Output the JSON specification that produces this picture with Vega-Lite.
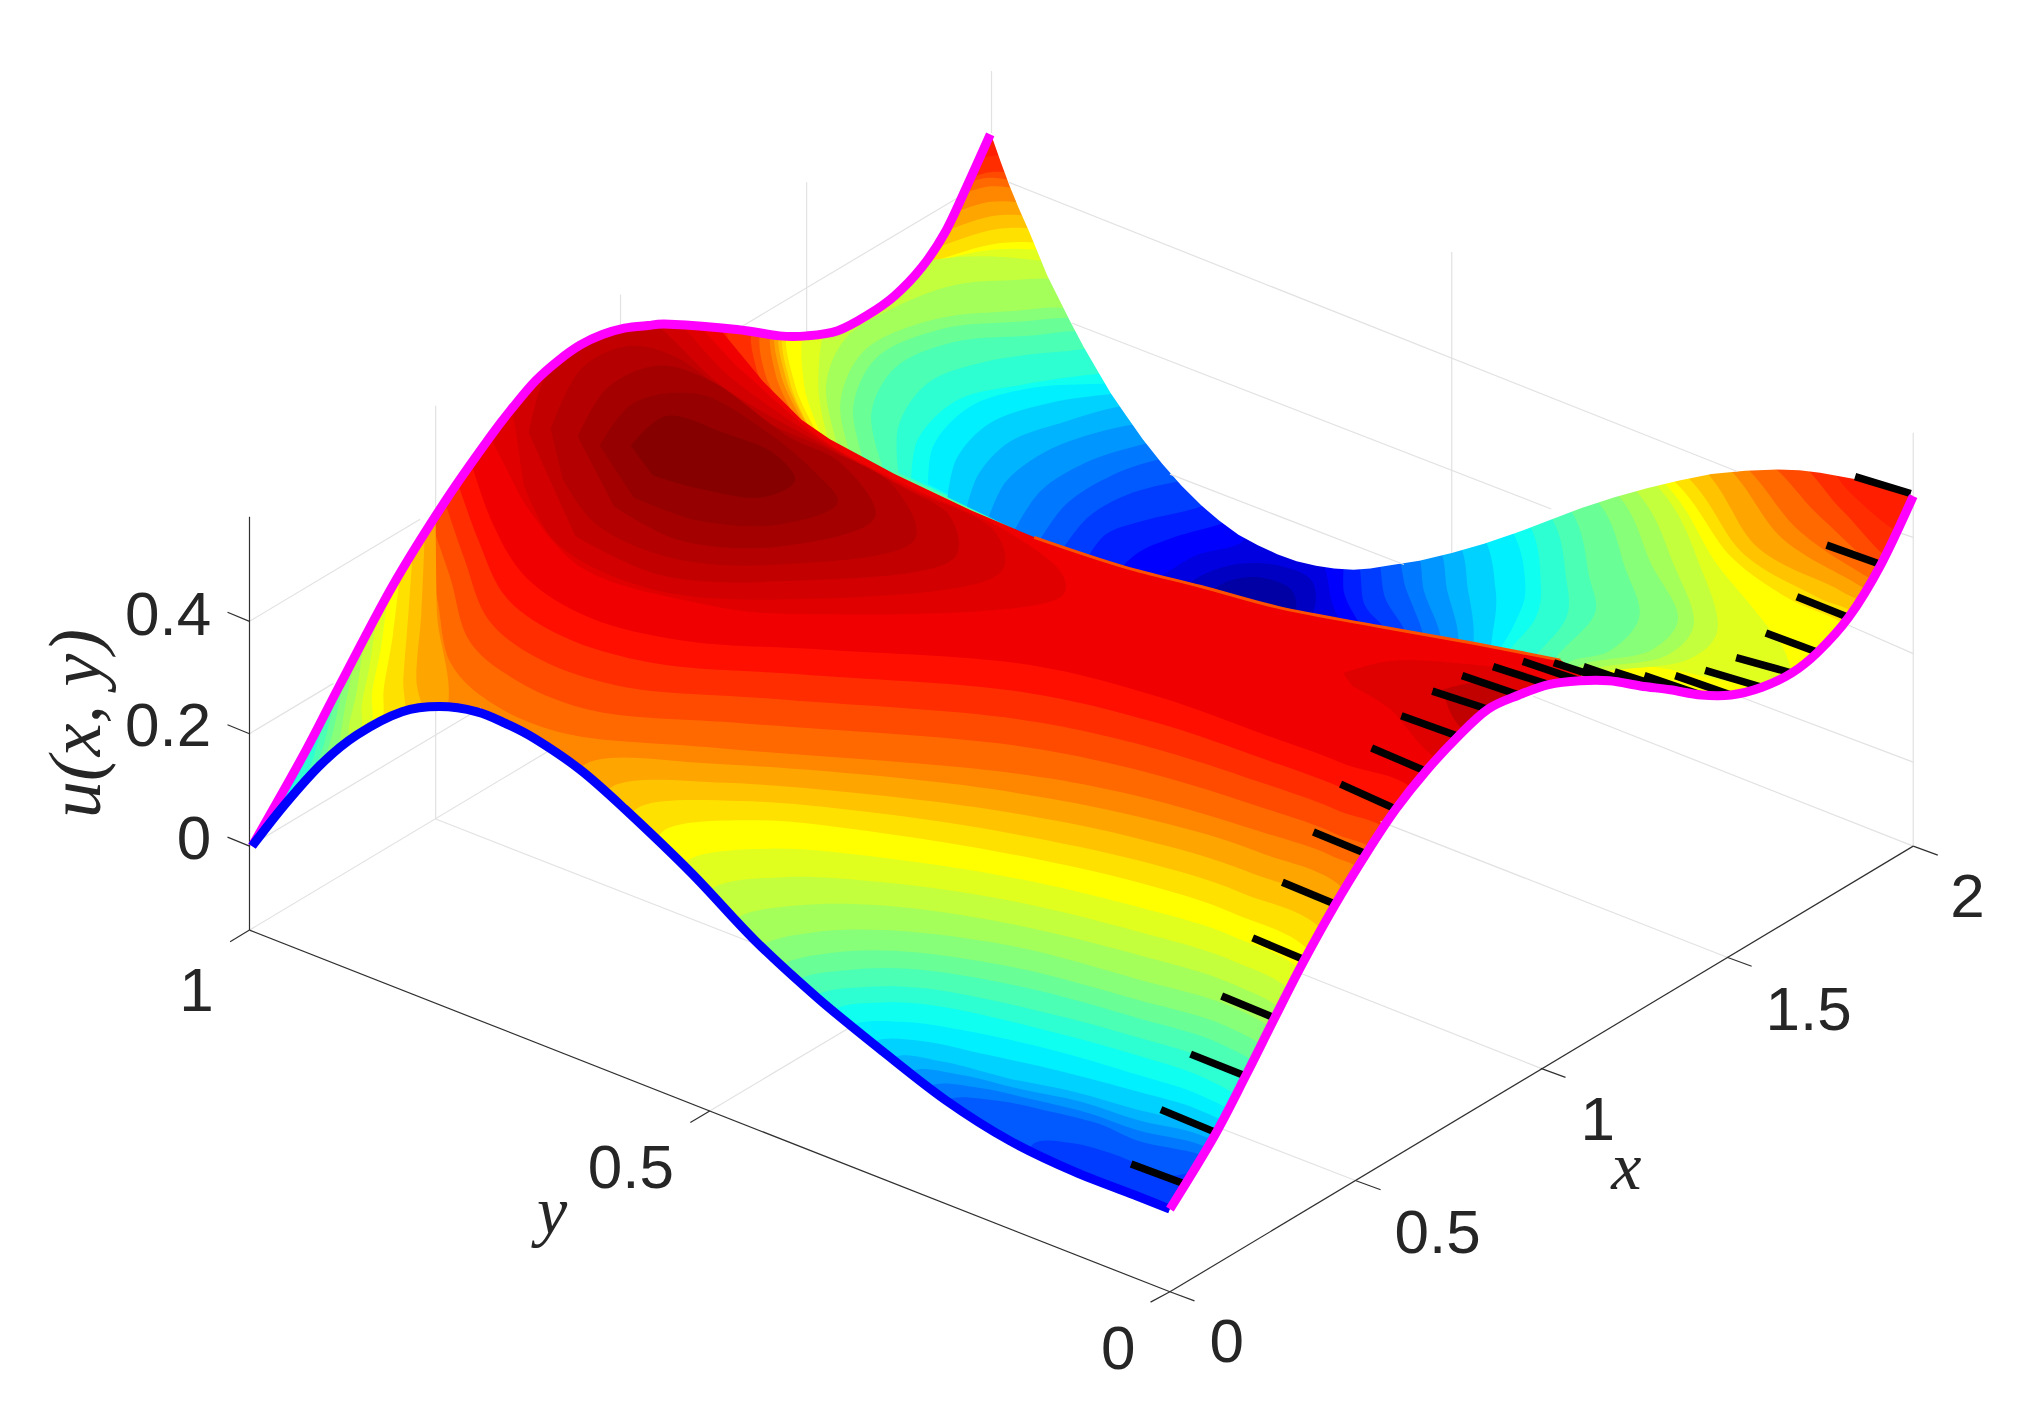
{"$schema":"https://vega.github.io/schema/vega-lite/v6.json","width":2027,"height":1411,"padding":0,"autosize":{"type":"fit","contains":"padding"},"background":"white","config":{"view":{"stroke":null}},
"datasets":{
"back":[
{"u":47,"h":500,"v":240},{"u":47,"h":800,"v":90},{"u":47,"h":1500,"v":340},{"u":47,"h":1500,"v":420},{"u":47,"h":1450,"v":560},{"u":47,"h":1230,"v":580},{"u":47,"h":1100,"v":560},{"u":47,"h":600,"v":420},{"u":47,"h":500,"v":350},
{"u":46,"h":590,"v":320},{"u":46,"h":565,"v":270},{"u":46,"h":565,"v":240},{"u":46,"h":755,"v":124},{"u":46,"h":790,"v":122},{"u":46,"h":1395,"v":340},{"u":46,"h":1430,"v":380},{"u":46,"h":1465,"v":410},{"u":46,"h":1495,"v":425},{"u":46,"h":1450,"v":560},{"u":46,"h":1230,"v":580},{"u":46,"h":1100,"v":560},
{"u":44,"h":605,"v":325},{"u":44,"h":585,"v":285},{"u":44,"h":585,"v":245},{"u":44,"h":750,"v":138},{"u":44,"h":785,"v":134},{"u":44,"h":1375,"v":345},{"u":44,"h":1425,"v":395},{"u":44,"h":1465,"v":435},{"u":44,"h":1490,"v":440},{"u":44,"h":1450,"v":560},{"u":44,"h":1230,"v":580},{"u":44,"h":1100,"v":560},
{"u":42,"h":612,"v":325},{"u":42,"h":592,"v":290},{"u":42,"h":592,"v":245},{"u":42,"h":750,"v":141},{"u":42,"h":785,"v":140},{"u":42,"h":1350,"v":345},{"u":42,"h":1408,"v":400},{"u":42,"h":1460,"v":445},{"u":42,"h":1480,"v":450},{"u":42,"h":1450,"v":560},{"u":42,"h":1230,"v":580},{"u":42,"h":1100,"v":560},
{"u":40,"h":618,"v":328},{"u":40,"h":600,"v":290},{"u":40,"h":600,"v":245},{"u":40,"h":748,"v":149},{"u":40,"h":787,"v":146},{"u":40,"h":1330,"v":345},{"u":40,"h":1393,"v":412},{"u":40,"h":1447,"v":448},{"u":40,"h":1470,"v":460},{"u":40,"h":1450,"v":560},{"u":40,"h":1230,"v":580},{"u":40,"h":1100,"v":560},
{"u":38,"h":622,"v":328},{"u":38,"h":604,"v":290},{"u":38,"h":603,"v":245},{"u":38,"h":742,"v":163},{"u":38,"h":792,"v":157},{"u":38,"h":1320,"v":348},{"u":38,"h":1380,"v":418},{"u":38,"h":1438,"v":453},{"u":38,"h":1460,"v":468},{"u":38,"h":1450,"v":560},{"u":38,"h":1230,"v":580},{"u":38,"h":1100,"v":560},
{"u":36,"h":628,"v":335},{"u":36,"h":608,"v":293},{"u":36,"h":606,"v":245},{"u":36,"h":736,"v":177},{"u":36,"h":796,"v":167},{"u":36,"h":1305,"v":352},{"u":36,"h":1361,"v":425},{"u":36,"h":1425,"v":458},{"u":36,"h":1450,"v":475},{"u":36,"h":1450,"v":560},{"u":36,"h":1230,"v":580},{"u":36,"h":1100,"v":560},
{"u":34,"h":630,"v":338},{"u":34,"h":611,"v":296},{"u":34,"h":609,"v":245},{"u":34,"h":729,"v":190},{"u":34,"h":800,"v":177},{"u":34,"h":1292,"v":358},{"u":34,"h":1350,"v":430},{"u":34,"h":1405,"v":462},{"u":34,"h":1440,"v":480},{"u":34,"h":1450,"v":560},{"u":34,"h":1230,"v":580},{"u":34,"h":1100,"v":560},
{"u":32,"h":634,"v":338},{"u":32,"h":615,"v":298},{"u":32,"h":612,"v":245},{"u":32,"h":722,"v":202},{"u":32,"h":804,"v":188},{"u":32,"h":1280,"v":360},{"u":32,"h":1341,"v":433},{"u":32,"h":1385,"v":464},{"u":32,"h":1425,"v":482},{"u":32,"h":1445,"v":500},{"u":32,"h":1450,"v":560},{"u":32,"h":1230,"v":580},{"u":32,"h":1100,"v":560},
{"u":30,"h":637,"v":340},{"u":30,"h":622,"v":298},{"u":30,"h":627,"v":245},{"u":30,"h":716,"v":205},{"u":30,"h":808,"v":194},{"u":30,"h":1274,"v":362},{"u":30,"h":1329,"v":438},{"u":30,"h":1361,"v":477},{"u":30,"h":1381,"v":505},{"u":30,"h":1385,"v":530},{"u":30,"h":1341,"v":528},{"u":30,"h":1291,"v":518},{"u":30,"h":1240,"v":513},{"u":30,"h":1190,"v":525},{"u":30,"h":1100,"v":560},
{"u":28,"h":642,"v":345},{"u":28,"h":633,"v":298},{"u":28,"h":645,"v":240},{"u":28,"h":705,"v":205},{"u":28,"h":825,"v":205},{"u":28,"h":1270,"v":365},{"u":28,"h":1317,"v":443},{"u":28,"h":1328,"v":490},{"u":28,"h":1307,"v":510},{"u":28,"h":1240,"v":520},{"u":28,"h":1190,"v":530},{"u":28,"h":1100,"v":560},
{"u":26,"h":648,"v":345},{"u":26,"h":639,"v":298},{"u":26,"h":654,"v":262},{"u":26,"h":692,"v":238},{"u":26,"h":737,"v":221},{"u":26,"h":781,"v":217},{"u":26,"h":830,"v":218},{"u":26,"h":1255,"v":370},{"u":26,"h":1296,"v":440},{"u":26,"h":1310,"v":485},{"u":26,"h":1290,"v":507},{"u":26,"h":1235,"v":517},{"u":26,"h":1190,"v":530},{"u":26,"h":1100,"v":560},
{"u":24,"h":658,"v":352},{"u":24,"h":650,"v":312},{"u":24,"h":668,"v":272},{"u":24,"h":720,"v":248},{"u":24,"h":781,"v":241},{"u":24,"h":840,"v":240},{"u":24,"h":1243,"v":375},{"u":24,"h":1278,"v":438},{"u":24,"h":1298,"v":480},{"u":24,"h":1278,"v":503},{"u":24,"h":1225,"v":514},{"u":24,"h":1190,"v":530},{"u":24,"h":1100,"v":560},
{"u":22,"h":668,"v":356},{"u":22,"h":660,"v":315},{"u":22,"h":678,"v":277},{"u":22,"h":727,"v":255},{"u":22,"h":788,"v":249},{"u":22,"h":850,"v":248},{"u":22,"h":1228,"v":380},{"u":22,"h":1258,"v":442},{"u":22,"h":1268,"v":478},{"u":22,"h":1245,"v":504},{"u":22,"h":1215,"v":512},{"u":22,"h":1190,"v":530},{"u":22,"h":1100,"v":560},
{"u":20,"h":683,"v":362},{"u":20,"h":674,"v":320},{"u":20,"h":692,"v":285},{"u":20,"h":737,"v":265},{"u":20,"h":796,"v":260},{"u":20,"h":855,"v":258},{"u":20,"h":1207,"v":385},{"u":20,"h":1230,"v":449},{"u":20,"h":1234,"v":474},{"u":20,"h":1207,"v":505},{"u":20,"h":1190,"v":525},{"u":20,"h":1100,"v":560},
{"u":18,"h":695,"v":366},{"u":18,"h":695,"v":330},{"u":18,"h":717,"v":297},{"u":18,"h":762,"v":280},{"u":18,"h":824,"v":272},{"u":18,"h":870,"v":270},{"u":18,"h":1192,"v":390},{"u":18,"h":1212,"v":451},{"u":18,"h":1212,"v":477},{"u":18,"h":1190,"v":505},{"u":18,"h":1170,"v":525},{"u":18,"h":1100,"v":560},
{"u":16,"h":705,"v":370},{"u":16,"h":710,"v":340},{"u":16,"h":740,"v":310},{"u":16,"h":790,"v":298},{"u":16,"h":845,"v":290},{"u":16,"h":880,"v":288},{"u":16,"h":1175,"v":395},{"u":16,"h":1192,"v":454},{"u":16,"h":1188,"v":478},{"u":16,"h":1170,"v":500},{"u":16,"h":1150,"v":520},{"u":16,"h":1100,"v":560},
{"u":14,"h":718,"v":375},{"u":14,"h":722,"v":345},{"u":14,"h":750,"v":315},{"u":14,"h":800,"v":300},{"u":14,"h":852,"v":297},{"u":14,"h":885,"v":295},{"u":14,"h":1160,"v":398},{"u":14,"h":1180,"v":456},{"u":14,"h":1172,"v":482},{"u":14,"h":1158,"v":505},{"u":14,"h":1140,"v":525},{"u":14,"h":1100,"v":560},
{"u":12,"h":733,"v":385},{"u":12,"h":740,"v":355},{"u":12,"h":765,"v":328},{"u":12,"h":812,"v":312},{"u":12,"h":860,"v":305},{"u":12,"h":892,"v":303},{"u":12,"h":1140,"v":405},{"u":12,"h":1157,"v":457},{"u":12,"h":1155,"v":488},{"u":12,"h":1148,"v":515},{"u":12,"h":1100,"v":560},
{"u":10,"h":748,"v":392},{"u":10,"h":757,"v":367},{"u":10,"h":781,"v":342},{"u":10,"h":825,"v":326},{"u":10,"h":864,"v":315},{"u":10,"h":900,"v":312},{"u":10,"h":1123,"v":412},{"u":10,"h":1136,"v":459},{"u":10,"h":1140,"v":495},{"u":10,"h":1135,"v":520},{"u":10,"h":1100,"v":560},
{"u":8,"h":765,"v":400},{"u":8,"h":778,"v":373},{"u":8,"h":808,"v":350},{"u":8,"h":848,"v":335},{"u":8,"h":880,"v":328},{"u":8,"h":912,"v":325},{"u":8,"h":1108,"v":415},{"u":8,"h":1120,"v":459},{"u":8,"h":1128,"v":492},{"u":8,"h":1125,"v":520},{"u":8,"h":1100,"v":560},
{"u":6,"h":785,"v":410},{"u":6,"h":805,"v":380},{"u":6,"h":840,"v":358},{"u":6,"h":880,"v":345},{"u":6,"h":905,"v":340},{"u":6,"h":925,"v":338},{"u":6,"h":1092,"v":420},{"u":6,"h":1102,"v":459},{"u":6,"h":1114,"v":491},{"u":6,"h":1115,"v":520},{"u":6,"h":1100,"v":560},
{"u":4,"h":805,"v":417},{"u":4,"h":825,"v":390},{"u":4,"h":860,"v":368},{"u":4,"h":900,"v":355},{"u":4,"h":930,"v":352},{"u":4,"h":1075,"v":420},{"u":4,"h":1088,"v":457},{"u":4,"h":1100,"v":488},{"u":4,"h":1105,"v":510},{"u":4,"h":1100,"v":560},
{"u":2,"h":822,"v":425},{"u":2,"h":842,"v":400},{"u":2,"h":872,"v":383},{"u":2,"h":915,"v":372},{"u":2,"h":945,"v":368},{"u":2,"h":1060,"v":420},{"u":2,"h":1072,"v":464},{"u":2,"h":1085,"v":485},{"u":2,"h":1095,"v":510},{"u":2,"h":1100,"v":560},
{"u":0,"h":840,"v":434},{"u":0,"h":855,"v":414},{"u":0,"h":885,"v":403},{"u":0,"h":929,"v":392},{"u":0,"h":955,"v":378},{"u":0,"h":1046,"v":425},{"u":0,"h":1056,"v":469},{"u":0,"h":1069,"v":484},{"u":0,"h":1085,"v":505},{"u":0,"h":1100,"v":560},
{"u":-2,"h":862,"v":445},{"u":-2,"h":880,"v":428},{"u":-2,"h":905,"v":417},{"u":-2,"h":940,"v":407},{"u":-2,"h":965,"v":400},{"u":-2,"h":1035,"v":425},{"u":-2,"h":1040,"v":460},{"u":-2,"h":1050,"v":480},{"u":-2,"h":1070,"v":510},{"u":-2,"h":1000,"v":530},
{"u":-4,"h":885,"v":455},{"u":-4,"h":900,"v":445},{"u":-4,"h":925,"v":430},{"u":-4,"h":960,"v":420},{"u":-4,"h":970,"v":405},{"u":-4,"h":1015,"v":420},{"u":-4,"h":1025,"v":440},{"u":-4,"h":1030,"v":465},{"u":-4,"h":1040,"v":500},{"u":-4,"h":1000,"v":520},
{"u":-6,"h":905,"v":465},{"u":-6,"h":925,"v":448},{"u":-6,"h":955,"v":437},{"u":-6,"h":990,"v":438},{"u":-6,"h":1015,"v":450},{"u":-6,"h":1015,"v":475},{"u":-6,"h":985,"v":490},
{"u":-8,"h":925,"v":470},{"u":-8,"h":945,"v":452},{"u":-8,"h":975,"v":447},{"u":-8,"h":1000,"v":458},{"u":-8,"h":1000,"v":480},{"u":-8,"h":960,"v":490}
],
"frontbase":[{"u":50,"h":180,"v":660},{"u":50,"h":340,"v":360},{"u":50,"h":360,"v":300},{"u":50,"h":450,"v":240},{"u":50,"h":540,"v":240},{"u":50,"h":553,"v":250},{"u":50,"h":590,"v":295},{"u":50,"h":620,"v":325},{"u":50,"h":642,"v":340},{"u":50,"h":692,"v":367},{"u":50,"h":751,"v":395},{"u":50,"h":810,"v":420},{"u":50,"h":870,"v":439},{"u":50,"h":929,"v":454},{"u":50,"h":988,"v":470},{"u":50,"h":1067,"v":485},{"u":50,"h":1140,"v":498},{"u":50,"h":1207,"v":511},{"u":50,"h":1222,"v":520},{"u":50,"h":1230,"v":540},{"u":50,"h":1150,"v":560},{"u":50,"h":1100,"v":610},{"u":50,"h":1000,"v":780},{"u":50,"h":930,"v":950},{"u":50,"h":600,"v":850},{"u":50,"h":300,"v":600}],
"islands":[
{"u":51,"h":380,"v":340},{"u":51,"h":400,"v":290},{"u":51,"h":460,"v":240},{"u":51,"h":522,"v":240},{"u":51,"h":575,"v":288},{"u":51,"h":640,"v":343},{"u":51,"h":700,"v":375},{"u":51,"h":780,"v":412},{"u":51,"h":822,"v":445},{"u":51,"h":822,"v":461},{"u":51,"h":603,"v":475},{"u":51,"h":541,"v":467},{"u":51,"h":449,"v":439},{"u":51,"h":404,"v":387},
{"u":51.1,"h":1039,"v":521},{"u":51.1,"h":1073,"v":512},{"u":51.1,"h":1123,"v":513},{"u":51.1,"h":1193,"v":526},{"u":51.1,"h":1200,"v":545},{"u":51.1,"h":1120,"v":590},{"u":51.1,"h":1073,"v":547},{"u":51.1,"h":1046,"v":531},
{"u":52,"h":397,"v":320},{"u":52,"h":410,"v":280},{"u":52,"h":460,"v":240},{"u":52,"h":510,"v":240},{"u":52,"h":565,"v":292},{"u":52,"h":640,"v":344},{"u":52,"h":700,"v":377},{"u":52,"h":770,"v":412},{"u":52,"h":775,"v":442},{"u":52,"h":603,"v":464},{"u":52,"h":500,"v":455},{"u":52,"h":430,"v":420},{"u":52,"h":405,"v":375},
{"u":53,"h":409,"v":335},{"u":53,"h":425,"v":285},{"u":53,"h":470,"v":245},{"u":53,"h":497,"v":245},{"u":53,"h":560,"v":300},{"u":53,"h":640,"v":346},{"u":53,"h":700,"v":378},{"u":53,"h":735,"v":400},{"u":53,"h":739,"v":431},{"u":53,"h":603,"v":450},{"u":53,"h":510,"v":445},{"u":53,"h":445,"v":415},
{"u":53.1,"h":1116,"v":534},{"u":53.1,"h":1140,"v":529},{"u":53.1,"h":1163,"v":534},{"u":53.1,"h":1175,"v":550},{"u":53.1,"h":1133,"v":565},{"u":53.1,"h":1120,"v":547},
{"u":54,"h":426,"v":332},{"u":54,"h":450,"v":285},{"u":54,"h":485,"v":268},{"u":54,"h":520,"v":275},{"u":54,"h":590,"v":325},{"u":54,"h":645,"v":350},{"u":54,"h":690,"v":375},{"u":54,"h":708,"v":417},{"u":54,"h":603,"v":437},{"u":54,"h":520,"v":432},{"u":54,"h":460,"v":405},{"u":54,"h":435,"v":370},
{"u":55,"h":447,"v":338},{"u":55,"h":470,"v":300},{"u":55,"h":510,"v":283},{"u":55,"h":550,"v":295},{"u":55,"h":610,"v":338},{"u":55,"h":650,"v":358},{"u":55,"h":677,"v":400},{"u":55,"h":603,"v":423},{"u":55,"h":525,"v":418},{"u":55,"h":475,"v":392},
{"u":56,"h":464,"v":345},{"u":56,"h":490,"v":312},{"u":56,"h":540,"v":305},{"u":56,"h":590,"v":332},{"u":56,"h":630,"v":365},{"u":56,"h":648,"v":389},{"u":56,"h":603,"v":406},{"u":56,"h":540,"v":403},{"u":56,"h":490,"v":385},
{"u":57,"h":488,"v":345},{"u":57,"h":515,"v":322},{"u":57,"h":560,"v":335},{"u":57,"h":600,"v":352},{"u":57,"h":615,"v":372},{"u":57,"h":590,"v":385},{"u":57,"h":540,"v":378},{"u":57,"h":505,"v":368}
],
"main":[
{"u":48,"h":360,"v":343},{"u":48,"h":381,"v":405},{"u":48,"h":407,"v":447},{"u":48,"h":456,"v":478},{"u":48,"h":529,"v":496},{"u":48,"h":639,"v":503},{"u":48,"h":798,"v":515},{"u":48,"h":898,"v":540},{"u":48,"h":979,"v":569},{"u":48,"h":1039,"v":591},{"u":48,"h":1100,"v":620},{"u":48,"h":1040,"v":980},{"u":48,"h":600,"v":960},{"u":48,"h":100,"v":720},
{"u":46,"h":349,"v":358},{"u":46,"h":370,"v":418},{"u":46,"h":392,"v":463},{"u":46,"h":436,"v":493},{"u":46,"h":504,"v":513},{"u":46,"h":618,"v":522},{"u":46,"h":793,"v":536},{"u":46,"h":893,"v":559},{"u":46,"h":979,"v":588},{"u":46,"h":1036,"v":609},{"u":46,"h":1091,"v":636},{"u":46,"h":1040,"v":980},{"u":46,"h":600,"v":960},{"u":46,"h":100,"v":720},
{"u":44,"h":339,"v":373},{"u":44,"h":359,"v":432},{"u":44,"h":378,"v":480},{"u":44,"h":415,"v":509},{"u":44,"h":479,"v":531},{"u":44,"h":597,"v":541},{"u":44,"h":789,"v":557},{"u":44,"h":888,"v":578},{"u":44,"h":979,"v":607},{"u":44,"h":1034,"v":627},{"u":44,"h":1081,"v":652},{"u":44,"h":1040,"v":980},{"u":44,"h":600,"v":960},{"u":44,"h":100,"v":720},
{"u":42,"h":328,"v":389},{"u":42,"h":348,"v":446},{"u":42,"h":363,"v":496},{"u":42,"h":395,"v":524},{"u":42,"h":454,"v":549},{"u":42,"h":576,"v":560},{"u":42,"h":784,"v":577},{"u":42,"h":884,"v":597},{"u":42,"h":979,"v":626},{"u":42,"h":1032,"v":645},{"u":42,"h":1072,"v":668},{"u":42,"h":1040,"v":980},{"u":42,"h":600,"v":960},{"u":42,"h":100,"v":720},
{"u":40,"h":317,"v":404},{"u":40,"h":337,"v":459},{"u":40,"h":348,"v":512},{"u":40,"h":374,"v":540},{"u":40,"h":430,"v":566},{"u":40,"h":555,"v":579},{"u":40,"h":780,"v":598},{"u":40,"h":879,"v":616},{"u":40,"h":979,"v":645},{"u":40,"h":1029,"v":662},{"u":40,"h":1063,"v":684},{"u":40,"h":1040,"v":980},{"u":40,"h":600,"v":960},{"u":40,"h":100,"v":720},
{"u":38,"h":430,"v":609},{"u":38,"h":459,"v":589},{"u":38,"h":549,"v":591},{"u":38,"h":683,"v":601},{"u":38,"h":781,"v":613},{"u":38,"h":880,"v":632},{"u":38,"h":972,"v":659},{"u":38,"h":1048,"v":699},{"u":38,"h":1040,"v":980},{"u":38,"h":700,"v":960},
{"u":36,"h":456,"v":624},{"u":36,"h":478,"v":607},{"u":36,"h":561,"v":606},{"u":36,"h":683,"v":616},{"u":36,"h":781,"v":629},{"u":36,"h":880,"v":649},{"u":36,"h":966,"v":675},{"u":36,"h":1039,"v":714},{"u":36,"h":1040,"v":980},{"u":36,"h":700,"v":960},
{"u":34,"h":480,"v":639},{"u":34,"h":496,"v":624},{"u":34,"h":572,"v":620},{"u":34,"h":683,"v":630},{"u":34,"h":781,"v":645},{"u":34,"h":880,"v":666},{"u":34,"h":960,"v":691},{"u":34,"h":1030,"v":729},{"u":34,"h":1040,"v":980},{"u":34,"h":700,"v":960},
{"u":32,"h":505,"v":655},{"u":32,"h":515,"v":642},{"u":32,"h":584,"v":635},{"u":32,"h":683,"v":645},{"u":32,"h":781,"v":661},{"u":32,"h":880,"v":683},{"u":32,"h":954,"v":707},{"u":32,"h":1020,"v":745},{"u":32,"h":1040,"v":980},{"u":32,"h":700,"v":960},
{"u":30,"h":521,"v":680},{"u":30,"h":534,"v":665},{"u":30,"h":595,"v":657},{"u":30,"h":683,"v":664},{"u":30,"h":781,"v":679},{"u":30,"h":880,"v":702},{"u":30,"h":954,"v":725},{"u":30,"h":1013,"v":760},{"u":30,"h":1040,"v":980},{"u":30,"h":700,"v":960},
{"u":28,"h":538,"v":704},{"u":28,"h":552,"v":687},{"u":28,"h":606,"v":679},{"u":28,"h":683,"v":683},{"u":28,"h":781,"v":697},{"u":28,"h":880,"v":721},{"u":28,"h":954,"v":744},{"u":28,"h":1006,"v":776},{"u":28,"h":1040,"v":980},{"u":28,"h":700,"v":960},
{"u":26,"h":554,"v":729},{"u":26,"h":571,"v":710},{"u":26,"h":616,"v":701},{"u":26,"h":683,"v":701},{"u":26,"h":781,"v":715},{"u":26,"h":880,"v":739},{"u":26,"h":954,"v":762},{"u":26,"h":999,"v":791},{"u":26,"h":1040,"v":980},{"u":26,"h":700,"v":960},
{"u":24,"h":571,"v":754},{"u":24,"h":589,"v":732},{"u":24,"h":627,"v":722},{"u":24,"h":683,"v":720},{"u":24,"h":781,"v":732},{"u":24,"h":880,"v":758},{"u":24,"h":954,"v":780},{"u":24,"h":992,"v":806},{"u":24,"h":1040,"v":980},{"u":24,"h":700,"v":960},
{"u":22,"h":587,"v":767},{"u":22,"h":605,"v":747},{"u":22,"h":641,"v":738},{"u":22,"h":692,"v":736},{"u":22,"h":785,"v":749},{"u":22,"h":880,"v":774},{"u":22,"h":950,"v":795},{"u":22,"h":986,"v":820},{"u":22,"h":1040,"v":980},{"u":22,"h":700,"v":960},
{"u":20,"h":602,"v":776},{"u":20,"h":618,"v":758},{"u":20,"h":655,"v":751},{"u":20,"h":703,"v":750},{"u":20,"h":791,"v":764},{"u":20,"h":880,"v":788},{"u":20,"h":944,"v":808},{"u":20,"h":982,"v":834},{"u":20,"h":1040,"v":980},{"u":20,"h":700,"v":960},
{"u":18,"h":617,"v":786},{"u":18,"h":632,"v":770},{"u":18,"h":669,"v":764},{"u":18,"h":715,"v":765},{"u":18,"h":797,"v":781},{"u":18,"h":880,"v":803},{"u":18,"h":938,"v":822},{"u":18,"h":977,"v":848},{"u":18,"h":1040,"v":980},{"u":18,"h":700,"v":960},
{"u":16,"h":632,"v":795},{"u":16,"h":646,"v":781},{"u":16,"h":683,"v":776},{"u":16,"h":726,"v":779},{"u":16,"h":803,"v":796},{"u":16,"h":880,"v":817},{"u":16,"h":933,"v":835},{"u":16,"h":972,"v":861},{"u":16,"h":1040,"v":980},{"u":16,"h":700,"v":960},
{"u":14,"h":648,"v":807},{"u":14,"h":661,"v":793},{"u":14,"h":698,"v":791},{"u":14,"h":742,"v":797},{"u":14,"h":811,"v":812},{"u":14,"h":880,"v":832},{"u":14,"h":929,"v":848},{"u":14,"h":967,"v":871},{"u":14,"h":1040,"v":980},{"u":14,"h":700,"v":960},
{"u":12,"h":663,"v":821},{"u":12,"h":677,"v":806},{"u":12,"h":714,"v":806},{"u":12,"h":761,"v":816},{"u":12,"h":820,"v":829},{"u":12,"h":880,"v":845},{"u":12,"h":927,"v":859},{"u":12,"h":961,"v":878},{"u":12,"h":1040,"v":980},{"u":12,"h":700,"v":960},
{"u":10,"h":678,"v":835},{"u":10,"h":693,"v":818},{"u":10,"h":730,"v":822},{"u":10,"h":781,"v":835},{"u":10,"h":830,"v":845},{"u":10,"h":880,"v":859},{"u":10,"h":925,"v":870},{"u":10,"h":955,"v":885},{"u":10,"h":1040,"v":980},{"u":10,"h":700,"v":960},
{"u":8,"h":692,"v":848},{"u":8,"h":706,"v":829},{"u":8,"h":743,"v":832},{"u":8,"h":789,"v":843},{"u":8,"h":837,"v":853},{"u":8,"h":880,"v":867},{"u":8,"h":927,"v":878},{"u":8,"h":953,"v":892},{"u":8,"h":1040,"v":980},{"u":8,"h":700,"v":960},
{"u":6,"h":706,"v":862},{"u":6,"h":719,"v":841},{"u":6,"h":757,"v":842},{"u":6,"h":798,"v":851},{"u":6,"h":843,"v":862},{"u":6,"h":880,"v":875},{"u":6,"h":928,"v":886},{"u":6,"h":952,"v":899},{"u":6,"h":1040,"v":980},{"u":6,"h":700,"v":960},
{"u":4,"h":720,"v":875},{"u":4,"h":732,"v":852},{"u":4,"h":770,"v":852},{"u":4,"h":806,"v":859},{"u":4,"h":850,"v":870},{"u":4,"h":880,"v":883},{"u":4,"h":929,"v":894},{"u":4,"h":950,"v":905},{"u":4,"h":1040,"v":980},{"u":4,"h":700,"v":960},
{"u":2,"h":790,"v":905},{"u":2,"h":800,"v":885},{"u":2,"h":830,"v":885},{"u":2,"h":860,"v":893},{"u":2,"h":885,"v":903},{"u":2,"h":905,"v":910},{"u":2,"h":925,"v":908},{"u":2,"h":945,"v":915},{"u":2,"h":1040,"v":980},{"u":2,"h":700,"v":960}
],
"wing":[
{"u":38,"h":337,"v":392},{"u":38,"h":338,"v":474},{"u":38,"h":342,"v":560},{"u":38,"h":170,"v":680},
{"u":36,"h":329,"v":403},{"u":36,"h":326,"v":474},{"u":36,"h":322,"v":525},{"u":36,"h":325,"v":565},{"u":36,"h":170,"v":680},
{"u":34,"h":320,"v":418},{"u":34,"h":316,"v":474},{"u":34,"h":312,"v":525},{"u":34,"h":310,"v":565},{"u":34,"h":170,"v":680},
{"u":32,"h":311,"v":430},{"u":32,"h":304,"v":491},{"u":32,"h":297,"v":532},{"u":32,"h":293,"v":565},{"u":32,"h":170,"v":680},
{"u":30,"h":302,"v":443},{"u":30,"h":295,"v":500},{"u":30,"h":288,"v":535},{"u":30,"h":285,"v":570},{"u":30,"h":170,"v":680},
{"u":28,"h":293,"v":465},{"u":28,"h":286,"v":515},{"u":28,"h":280,"v":545},{"u":28,"h":277,"v":575},{"u":28,"h":170,"v":680},
{"u":26,"h":283,"v":485},{"u":26,"h":276,"v":535},{"u":26,"h":270,"v":562},{"u":26,"h":268,"v":582},{"u":26,"h":170,"v":680},
{"u":24,"h":276,"v":500},{"u":24,"h":266,"v":553},{"u":24,"h":262,"v":577},{"u":24,"h":258,"v":592},{"u":24,"h":170,"v":680},
{"u":22,"h":267,"v":520},{"u":22,"h":258,"v":565},{"u":22,"h":252,"v":585},{"u":22,"h":247,"v":600},{"u":22,"h":170,"v":680},
{"u":20,"h":260,"v":535},{"u":20,"h":251,"v":575},{"u":20,"h":245,"v":592},{"u":20,"h":240,"v":608},{"u":20,"h":170,"v":680},
{"u":18,"h":252,"v":550},{"u":18,"h":243,"v":585},{"u":18,"h":237,"v":600},{"u":18,"h":232,"v":616},{"u":18,"h":170,"v":680},
{"u":16,"h":244,"v":562},{"u":16,"h":235,"v":591},{"u":16,"h":226,"v":610},{"u":16,"h":222,"v":628},{"u":16,"h":170,"v":680},
{"u":14,"h":237,"v":575},{"u":14,"h":228,"v":604},{"u":14,"h":218,"v":618},{"u":14,"h":214,"v":636},{"u":14,"h":170,"v":680},
{"u":12,"h":230,"v":590},{"u":12,"h":221,"v":616},{"u":12,"h":212,"v":628},{"u":12,"h":207,"v":644},{"u":12,"h":170,"v":680},
{"u":10,"h":222,"v":603},{"u":10,"h":214,"v":628},{"u":10,"h":205,"v":638},{"u":10,"h":200,"v":652},{"u":10,"h":170,"v":680}
],
"foldline":[{"h":800,"v":416},{"h":870,"v":439},{"h":929,"v":454},{"h":988,"v":470},{"h":1067,"v":485},{"h":1140,"v":498},{"h":1207,"v":511}],
"mask":[{"h":0,"v":0},{"h":1568,"v":0},{"h":1568,"v":1092},{"h":0,"v":1092},{"h":0,"v":655},{"h":195,"v":655},{"h":221,"v":622},{"h":249,"v":591},{"h":276,"v":569},{"h":311,"v":551},{"h":340,"v":547},{"h":369,"v":551},{"h":391,"v":560},{"h":414,"v":572},{"h":449,"v":596},{"h":483,"v":626},{"h":518,"v":660},{"h":535,"v":676},{"h":584,"v":728},{"h":633,"v":773},{"h":683,"v":814},{"h":732,"v":852},{"h":781,"v":883},{"h":831,"v":907},{"h":880,"v":926},{"h":905,"v":936},{"h":939,"v":880},{"h":964,"v":832},{"h":986,"v":788},{"h":1008,"v":745},{"h":1033,"v":700},{"h":1058,"v":659},{"h":1080,"v":626},{"h":1103,"v":597},{"h":1128,"v":570},{"h":1151,"v":549},{"h":1175,"v":538},{"h":1198,"v":530},{"h":1222,"v":527},{"h":1245,"v":527},{"h":1269,"v":531},{"h":1292,"v":534},{"h":1316,"v":538},{"h":1339,"v":538},{"h":1363,"v":532},{"h":1386,"v":521},{"h":1406,"v":505},{"h":1430,"v":478},{"h":1455,"v":437},{"h":1480,"v":384},{"h":1461,"v":378},{"h":1441,"v":372},{"h":1425,"v":369},{"h":1408,"v":366},{"h":1392,"v":364},{"h":1375,"v":363.5},{"h":1350,"v":364.5},{"h":1324,"v":367},{"h":1299,"v":372},{"h":1274,"v":378},{"h":1249,"v":385},{"h":1224,"v":393},{"h":1198,"v":403},{"h":1173,"v":412.5},{"h":1148,"v":421},{"h":1123,"v":428},{"h":1098,"v":434},{"h":1073,"v":438},{"h":1060,"v":440},{"h":1047,"v":441},{"h":1032,"v":440},{"h":1018,"v":438},{"h":1003,"v":434.5},{"h":988,"v":429},{"h":973,"v":422},{"h":958,"v":414},{"h":943,"v":403},{"h":929,"v":391},{"h":914,"v":376},{"h":899,"v":359},{"h":884,"v":340},{"h":870,"v":320},{"h":859,"v":304},{"h":849,"v":287},{"h":838,"v":268},{"h":828,"v":249},{"h":819,"v":231},{"h":810,"v":213},{"h":803,"v":196},{"h":796,"v":179},{"h":788,"v":161},{"h":781,"v":144},{"h":774,"v":125},{"h":767,"v":105},{"h":748,"v":144},{"h":731,"v":180},{"h":713,"v":207},{"h":692,"v":229},{"h":671,"v":244},{"h":648,"v":256},{"h":624,"v":260},{"h":603,"v":260},{"h":570,"v":255},{"h":518,"v":251},{"h":501,"v":252},{"h":483,"v":254},{"h":466,"v":259},{"h":449,"v":267},{"h":432,"v":279},{"h":414,"v":295},{"h":397,"v":315},{"h":380,"v":337},{"h":345,"v":387},{"h":304,"v":453},{"h":262,"v":532},{"h":235,"v":584},{"h":195,"v":655},{"h":0,"v":655}],
"rules":[
{"k":"grid","h":193,"v":481,"h2":325,"v2":402},{"k":"grid","h":570,"v":255,"h2":741,"v2":153},{"k":"grid","h":193,"v":568,"h2":258,"v2":529},{"k":"grid","h":193,"v":655,"h2":372,"v2":548},{"k":"grid","h":193,"v":720,"h2":425,"v2":581},
{"k":"grid","h":780,"v":141,"h2":1344,"v2":365},{"k":"grid","h":829,"v":250,"h2":1200,"v2":394},{"k":"grid","h":905,"v":367,"h2":1086,"v2":437},{"k":"grid","h":1465,"v":411,"h2":1480,"v2":416},{"k":"grid","h":1430,"v":484,"h2":1480,"v2":506},{"k":"grid","h":1345,"v":539,"h2":1480,"v2":590},{"k":"grid","h":1186,"v":539,"h2":1480,"v2":655},
{"k":"grid","h":337,"v":314,"h2":337,"v2":397},{"k":"grid","h":337,"v":547,"h2":337,"v2":634},{"k":"grid","h":480,"v":228,"h2":480,"v2":254},{"k":"grid","h":624,"v":141,"h2":624,"v2":260},{"k":"grid","h":767,"v":55,"h2":767,"v2":103},{"k":"grid","h":1123,"v":195,"h2":1123,"v2":428},{"k":"grid","h":1480,"v":335,"h2":1480,"v2":655},
{"k":"grid","h":337,"v":634,"h2":585,"v2":731},{"k":"grid","h":943,"v":873,"h2":1049,"v2":914},{"k":"grid","h":1005,"v":753,"h2":1192,"v2":827},{"k":"grid","h":1068,"v":636,"h2":1336,"v2":741},{"k":"grid","h":549,"v":860,"h2":658,"v2":795},
{"k":"axis","h":193,"v":400,"h2":193,"v2":720},{"k":"axis","h":193,"v":720,"h2":905,"v2":1000},{"k":"axis","h":905,"v":1000,"h2":1480,"v2":655},
{"k":"axis","h":193,"v":655,"h2":176,"v2":648},{"k":"axis","h":193,"v":568,"h2":176,"v2":561},{"k":"axis","h":193,"v":481,"h2":176,"v2":474},
{"k":"axis","h":193,"v":720,"h2":178,"v2":729},{"k":"axis","h":549,"v":860,"h2":534,"v2":869},{"k":"axis","h":905,"v":1000,"h2":890,"v2":1008},
{"k":"axis","h":905,"v":1000,"h2":924,"v2":1007},{"k":"axis","h":1049,"v":914,"h2":1068,"v2":921},{"k":"axis","h":1192,"v":827,"h2":1211,"v2":834},{"k":"axis","h":1336,"v":741,"h2":1355,"v2":748},{"k":"axis","h":1480,"v":655,"h2":1499,"v2":662}
],
"arrows":[
{"h":875,"v":901,"h2":915,"v2":916},{"h":898,"v":859,"h2":939,"v2":876},{"h":921,"v":816,"h2":961,"v2":832},{"h":945,"v":771,"h2":986,"v2":788},{"h":969,"v":726,"h2":1009,"v2":743},{"h":992,"v":683,"h2":1033,"v2":700},{"h":1016,"v":644,"h2":1057,"v2":661},{"h":1037,"v":607,"h2":1079,"v2":626},{"h":1061,"v":579,"h2":1103,"v2":597},{"h":1084,"v":554,"h2":1128,"v2":570},{"h":1108,"v":535,"h2":1151,"v2":549},{"h":1131,"v":523,"h2":1175,"v2":538},{"h":1155,"v":516,"h2":1198,"v2":530},{"h":1178,"v":512,"h2":1222,"v2":527},{"h":1202,"v":513,"h2":1245,"v2":527},{"h":1225,"v":516,"h2":1269,"v2":531},{"h":1249,"v":520,"h2":1292,"v2":534},{"h":1272,"v":523,"h2":1316,"v2":538},{"h":1296,"v":523,"h2":1339,"v2":538},{"h":1319,"v":519,"h2":1363,"v2":532},{"h":1343,"v":509,"h2":1386,"v2":521},{"h":1366,"v":490,"h2":1406,"v2":505},{"h":1390,"v":462,"h2":1430,"v2":478},{"h":1413,"v":422,"h2":1455,"v2":437},{"h":1435,"v":369,"h2":1478,"v2":382}
],
"curves":[
{"c":"y1","h":766,"v":104},{"c":"y1","h":748,"v":144},{"c":"y1","h":731,"v":180},{"c":"y1","h":713,"v":207},{"c":"y1","h":692,"v":229},{"c":"y1","h":671,"v":244},{"c":"y1","h":648,"v":256},{"c":"y1","h":624,"v":260},{"c":"y1","h":603,"v":260},{"c":"y1","h":570,"v":255},{"c":"y1","h":518,"v":251},{"c":"y1","h":501,"v":252},{"c":"y1","h":483,"v":254},{"c":"y1","h":466,"v":259},{"c":"y1","h":449,"v":267},{"c":"y1","h":432,"v":279},{"c":"y1","h":414,"v":295},{"c":"y1","h":397,"v":315},{"c":"y1","h":380,"v":337},{"c":"y1","h":345,"v":387},{"c":"y1","h":304,"v":453},{"c":"y1","h":262,"v":532},{"c":"y1","h":235,"v":584},{"c":"y1","h":195,"v":655},
{"c":"x0","h":195,"v":655},{"c":"x0","h":221,"v":622},{"c":"x0","h":249,"v":591},{"c":"x0","h":276,"v":569},{"c":"x0","h":311,"v":551},{"c":"x0","h":340,"v":547},{"c":"x0","h":369,"v":551},{"c":"x0","h":391,"v":560},{"c":"x0","h":414,"v":572},{"c":"x0","h":449,"v":596},{"c":"x0","h":483,"v":626},{"c":"x0","h":535,"v":676},{"c":"x0","h":584,"v":728},{"c":"x0","h":633,"v":773},{"c":"x0","h":683,"v":814},{"c":"x0","h":732,"v":852},{"c":"x0","h":781,"v":883},{"c":"x0","h":831,"v":907},{"c":"x0","h":880,"v":926},{"c":"x0","h":905,"v":936},
{"c":"y0","h":905,"v":936},{"c":"y0","h":939,"v":880},{"c":"y0","h":964,"v":832},{"c":"y0","h":986,"v":788},{"c":"y0","h":1008,"v":745},{"c":"y0","h":1033,"v":700},{"c":"y0","h":1058,"v":659},{"c":"y0","h":1080,"v":626},{"c":"y0","h":1103,"v":597},{"c":"y0","h":1128,"v":570},{"c":"y0","h":1151,"v":549},{"c":"y0","h":1175,"v":538},{"c":"y0","h":1198,"v":530},{"c":"y0","h":1222,"v":527},{"c":"y0","h":1245,"v":527},{"c":"y0","h":1269,"v":531},{"c":"y0","h":1292,"v":534},{"c":"y0","h":1316,"v":538},{"c":"y0","h":1339,"v":538},{"c":"y0","h":1363,"v":532},{"c":"y0","h":1386,"v":521},{"c":"y0","h":1406,"v":505},{"c":"y0","h":1430,"v":478},{"c":"y0","h":1455,"v":437},{"c":"y0","h":1480,"v":384}
],
"ticklabels":[{"t":"0.4","h":130,"v":477},{"t":"0.2","h":130,"v":563},{"t":"0","h":150,"v":650},{"t":"1","h":152,"v":768},{"t":"0.5","h":488,"v":905},{"t":"0","h":865,"v":1045},{"t":"0","h":949,"v":1040},{"t":"0.5","h":1112,"v":955},{"t":"1","h":1236,"v":868},{"t":"1.5","h":1399,"v":783},{"t":"2","h":1522,"v":695}],
"mathx":[{"t":"x","h":1258,"v":905},{"t":"y","h":427,"v":940}],
"mathu":[{"t":"u(x, y)","h":60,"v":560}]
},
"encoding":{"x":{"field":"h","type":"quantitative","axis":null,"scale":{"domain":[0,1568],"nice":false,"zero":false}},"y":{"field":"v","type":"quantitative","axis":null,"scale":{"domain":[1091.5,0],"nice":false,"zero":false}}},
"layer":[
{"data":{"name":"back"},"transform":[{"window":[{"op":"row_number","as":"i"}]}],"mark":{"type":"line","interpolate":"catmull-rom","strokeWidth":0},"encoding":{"detail":{"field":"u","type":"nominal"},"order":{"field":"i","type":"quantitative"},"fill":{"field":"u","type":"quantitative","legend":null,"scale":{"domain":[-10.5,-2,6.5,15,23.5,32,40.5,49,57.5],"range":["#00007f","#0000ff","#007fff","#00ffff","#7fff7f","#ffff00","#ff7f00","#ff0000","#7f0000"],"interpolate":"rgb"}}}},
{"data":{"name":"frontbase"},"transform":[{"window":[{"op":"row_number","as":"i"}]}],"mark":{"type":"line","strokeWidth":0},"encoding":{"detail":{"field":"u","type":"nominal"},"order":{"field":"i","type":"quantitative"},"fill":{"field":"u","type":"quantitative","legend":null}}},
{"data":{"name":"islands"},"transform":[{"window":[{"op":"row_number","as":"i"}]}],"mark":{"type":"line","interpolate":"catmull-rom","strokeWidth":0},"encoding":{"detail":{"field":"u","type":"nominal"},"order":{"field":"i","type":"quantitative"},"fill":{"field":"u","type":"quantitative","legend":null}}},
{"data":{"name":"main"},"transform":[{"window":[{"op":"row_number","as":"i"}]}],"mark":{"type":"line","interpolate":"catmull-rom","strokeWidth":0},"encoding":{"detail":{"field":"u","type":"nominal"},"order":{"field":"i","type":"quantitative"},"fill":{"field":"u","type":"quantitative","legend":null}}},
{"data":{"name":"wing"},"transform":[{"window":[{"op":"row_number","as":"i"}]}],"mark":{"type":"line","interpolate":"catmull-rom","strokeWidth":0},"encoding":{"detail":{"field":"u","type":"nominal"},"order":{"field":"i","type":"quantitative"},"fill":{"field":"u","type":"quantitative","legend":null}}},
{"data":{"name":"foldline"},"mark":{"type":"line","stroke":"#ff5000","strokeWidth":3,"interpolate":"catmull-rom"},"encoding":{}},
{"data":{"name":"mask"},"transform":[{"window":[{"op":"row_number","as":"i"}]}],"mark":{"type":"line","strokeWidth":0,"fill":"#ffffff"},"encoding":{"order":{"field":"i","type":"quantitative"}}},
{"data":{"name":"rules"},"mark":{"type":"rule","strokeWidth":1.2},"encoding":{"x2":{"field":"h2"},"y2":{"field":"v2"},"color":{"field":"k","type":"nominal","legend":null,"scale":{"domain":["grid","axis","arrow","y1","x0","y0"],"range":["#e2e2e2","#303030","#000000","#ff00ff","#0000ff","#ff00ff"]}}}},
{"data":{"name":"arrows"},"mark":{"type":"rule","strokeWidth":7.5,"stroke":"#000000"},"encoding":{"x2":{"field":"h2"},"y2":{"field":"v2"}}},
{"data":{"name":"curves"},"transform":[{"window":[{"op":"row_number","as":"i"}]}],"mark":{"type":"line","strokeWidth":9,"interpolate":"cardinal","tension":0},"encoding":{"order":{"field":"i","type":"quantitative"},"color":{"field":"c","type":"nominal","legend":null}}},
{"data":{"name":"ticklabels"},"mark":{"type":"text","font":"Liberation Sans","fontSize":62,"fill":"#262626","align":"center","baseline":"middle"},"encoding":{"text":{"field":"t"}}},
{"data":{"name":"mathx"},"mark":{"type":"text","font":"Liberation Serif","fontStyle":"italic","fontSize":68,"fill":"#262626","align":"center","baseline":"middle"},"encoding":{"text":{"field":"t"}}},
{"data":{"name":"mathu"},"mark":{"type":"text","font":"Liberation Serif","fontStyle":"italic","fontSize":74,"fill":"#262626","align":"center","baseline":"middle","angle":270},"encoding":{"text":{"field":"t"}}}
]}
